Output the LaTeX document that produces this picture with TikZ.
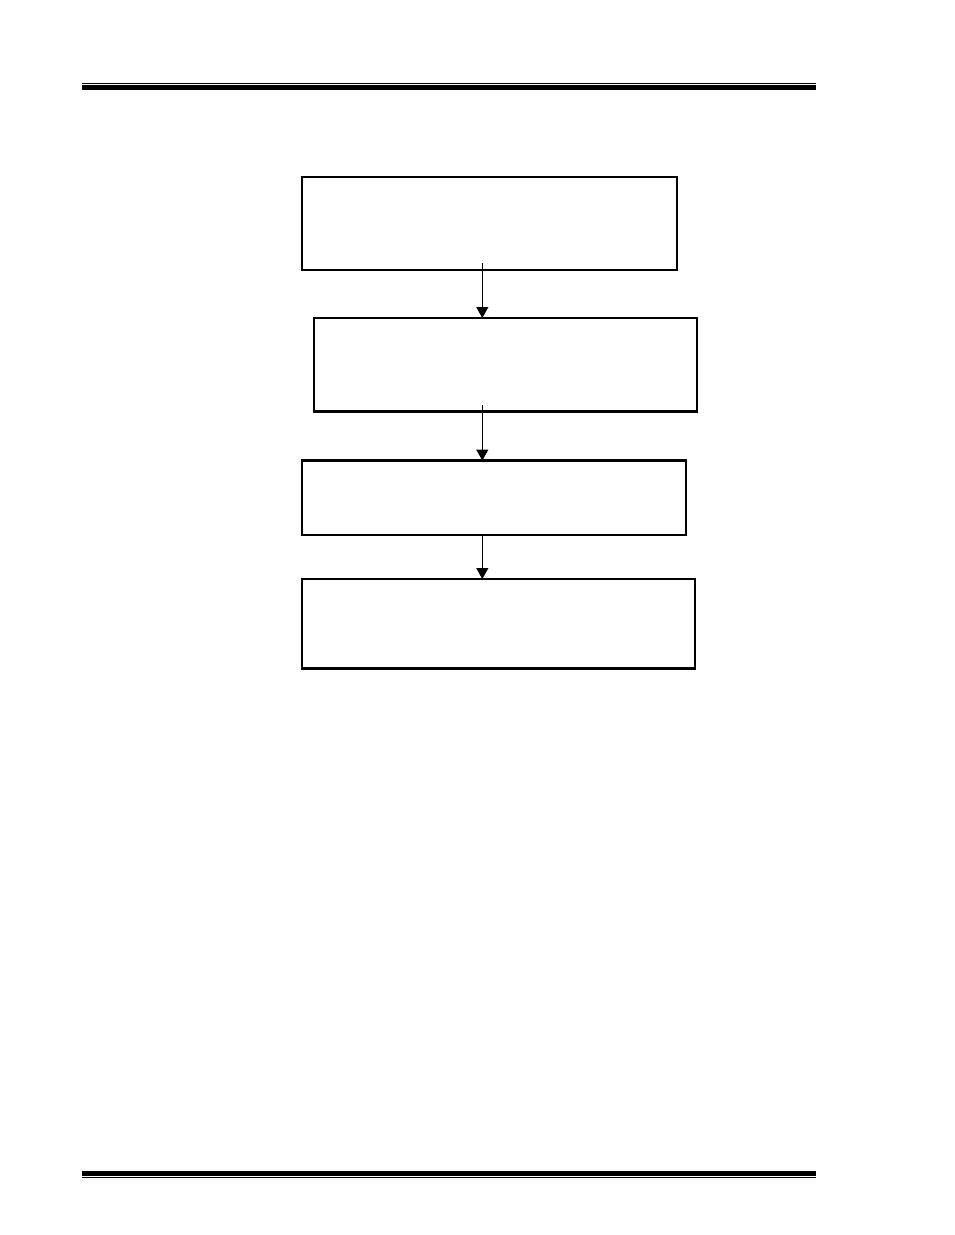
\documentclass[tikz,border=0pt]{standalone}
\usetikzlibrary{arrows.meta,fit}
\begin{document}
\begin{tikzpicture}[x=0.75pt,y=-0.75pt,
  stepbox/.style={draw=black,line width=1.9pt,inner sep=0pt,outer sep=0pt,rectangle},
  arr/.style={draw=black,line width=0.75pt,-{Triangle[length=8.25pt,width=9pt]}},
  rulethin/.style={line width=0.8pt},
  rulethick/.style={line width=3.75pt}]
\useasboundingbox[fill=white] (0,0) rectangle (954,1235);
% header and footer rules
\coordinate (hl) at (82,83.5); \coordinate (hr) at (816,83.5);
\draw[rulethin] (hl) -- (hr);
\coordinate (hkl) at (82,87.5); \coordinate (hkr) at (816,87.5);
\draw[rulethick] (hkl) -- (hkr);
\coordinate (fkl) at (82,1173.5); \coordinate (fkr) at (816,1173.5);
\draw[rulethick] (fkl) -- (fkr);
\coordinate (fl) at (82,1177.5); \coordinate (fr) at (816,1177.5);
\draw[rulethin] (fl) -- (fr);
% boxes
\coordinate (b1a) at (302,177); \coordinate (b1b) at (677,270);
\node[stepbox,fit=(b1a)(b1b)] (b1) {};
\coordinate (b2a) at (314,318); \coordinate (b2b) at (697,411.5);
\node[stepbox,fit=(b2a)(b2b)] (b2) {};
\coordinate (b3a) at (302,460.5); \coordinate (b3b) at (686,535);
\node[stepbox,fit=(b3a)(b3b)] (b3) {};
\coordinate (b4a) at (302,579); \coordinate (b4b) at (695,668.5);
\node[stepbox,fit=(b4a)(b4b)] (b4) {};
% connectors
\coordinate (s1) at (482.3,263);
\coordinate (s2) at (482.3,405);
\coordinate (s3) at (482.3,535);
\draw[arr] (s1) -- (s1 |- b2.north);
\draw[arr] (s2) -- (s2 |- b3.north);
\draw[arr] (s3) -- (s3 |- b4.north);
\end{tikzpicture}
\end{document}
